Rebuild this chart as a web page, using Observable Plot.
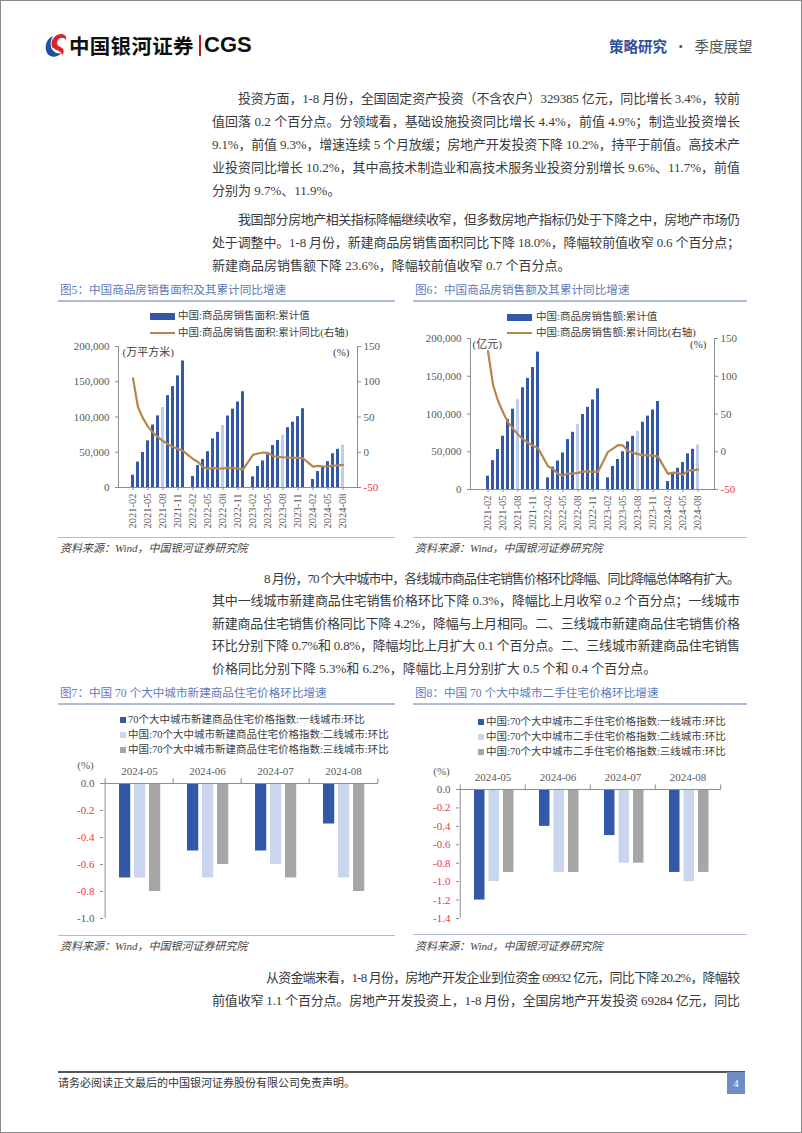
<!DOCTYPE html>
<html><head><meta charset="utf-8">
<script src="https://cdn.jsdelivr.net/npm/d3@7"></script>
<script src="https://cdn.jsdelivr.net/npm/@observablehq/plot@0.6"></script>
<style>
html,body{margin:0;padding:0;background:#fff;}
body{width:802px;height:1133px;position:relative;overflow:hidden;font-family:"Liberation Serif","Noto Sans CJK SC",serif;color:#333;}
.abs{position:absolute;}
.ln{position:absolute;white-space:nowrap;font-size:13px;line-height:23px;height:23px;color:#3a3a3a;}
.ftitle{position:absolute;font-size:11.6px;color:#5E7BB8;white-space:nowrap;font-family:"Liberation Serif","Noto Sans CJK SC",serif;line-height:16px;}
.frule{position:absolute;height:2px;background:#AEBBDB;}
.srule{position:absolute;height:1px;background:#AEBBDB;}
.src{position:absolute;font-size:11px;font-style:italic;color:#444;white-space:nowrap;}
.leg{position:absolute;font-size:10.5px;color:#404040;white-space:nowrap;line-height:14px;}
.sw{position:absolute;}
.chart{position:absolute;}
</style>
</head><body>
<div class="abs" style="left:0;top:0;width:802px;height:1133px;box-sizing:border-box;border:1px solid #8a8a8a;"></div>

<!-- header -->
<svg class="abs" style="left:44px;top:32px" width="24" height="28" viewBox="0 0 24 28">
  <path d="M3,21 C0,15 2,7 9,4 C6,9 5.5,15 9.5,19 C12,21.5 15,22 17.5,21 C13,26 6,26 3,21 Z" fill="#1F4FA0"/>
  <path d="M8,15 C6,9 10,3 16.5,2 C20.5,1.5 23,4.5 22,8 C20,5 16,5 14,8 C12,11 13.5,14 16.5,15 C20,16.5 21,20.5 18,23.5 C18.5,19 12.5,19 8,15 Z" fill="#D7252B"/>
</svg>
<div class="abs" style="left:69px;top:32px;font-family:'Noto Sans CJK SC';font-weight:bold;font-size:20.5px;color:#111;line-height:26px;letter-spacing:0.3px;">中国银河证券</div>
<div class="abs" style="left:199px;top:35px;width:2px;height:21px;background:#C8161D;"></div>
<div class="abs" style="left:204px;top:31px;font-family:'Liberation Sans','Noto Sans CJK SC';font-weight:bold;font-size:22px;color:#111;line-height:28px;">CGS</div>
<div class="abs" style="left:609px;top:36px;font-family:'Noto Sans CJK SC';font-size:14.5px;line-height:20px;white-space:nowrap;"><span style="color:#2D4E9E;font-weight:bold;">策略研究</span><span style="color:#555;"> &nbsp;·&nbsp; 季度展望</span></div>

<div id="text"></div>

<!-- Figure 5 -->
<div class="ftitle" style="left:60px;top:283px;">图5：中国商品房销售面积及其累计同比增速</div>
<div class="frule" style="left:58px;top:300px;width:337px;"></div>
<div class="sw" style="left:150px;top:313px;width:25px;height:7px;background:#3358A8;"></div>
<div class="leg" style="left:178px;top:309px;">中国:商品房销售面积:累计值</div>
<div class="sw" style="left:150px;top:332px;width:25px;height:2px;background:#B8864B;"></div>
<div class="leg" style="left:178px;top:326px;">中国:商品房销售面积:累计同比(右轴)</div>
<div class="chart" id="c5" style="left:55px;top:335px;"></div>
<div class="srule" style="left:58px;top:537px;width:337px;"></div>
<div class="src" style="left:60px;top:539px;">资料来源：Wind，中国银河证券研究院</div>

<!-- Figure 6 -->
<div class="ftitle" style="left:415px;top:283px;">图6：中国商品房销售额及其累计同比增速</div>
<div class="frule" style="left:413px;top:300px;width:334px;"></div>
<div class="sw" style="left:507px;top:314px;width:25px;height:7px;background:#3358A8;"></div>
<div class="leg" style="left:536px;top:310px;">中国:商品房销售额:累计值</div>
<div class="sw" style="left:507px;top:332px;width:25px;height:2px;background:#B8864B;"></div>
<div class="leg" style="left:536px;top:326px;">中国:商品房销售额:累计同比(右轴)</div>
<div class="chart" id="c6" style="left:410px;top:330px;"></div>
<div class="srule" style="left:413px;top:537px;width:334px;"></div>
<div class="src" style="left:415px;top:539px;">资料来源：Wind，中国银河证券研究院</div>

<!-- Figure 7 -->
<div class="ftitle" style="left:60px;top:686px;">图7：中国 70 个大中城市新建商品住宅价格环比增速</div>
<div class="frule" style="left:58px;top:703px;width:337px;"></div>
<div id="leg7"></div>
<div class="chart" id="c7" style="left:55px;top:755px;"></div>
<div class="srule" style="left:58px;top:935px;width:337px;"></div>
<div class="src" style="left:60px;top:937px;">资料来源：Wind，中国银河证券研究院</div>

<!-- Figure 8 -->
<div class="ftitle" style="left:415px;top:686px;">图8：中国 70 个大中城市二手住宅价格环比增速</div>
<div class="frule" style="left:413px;top:703px;width:334px;"></div>
<div id="leg8"></div>
<div class="chart" id="c8" style="left:410px;top:755px;"></div>
<div class="srule" style="left:413px;top:934px;width:334px;"></div>
<div class="src" style="left:415px;top:937px;">资料来源：Wind，中国银河证券研究院</div>

<!-- footer -->
<div class="abs" style="left:58px;top:1071px;width:687px;height:1.5px;background:#555;"></div>
<div class="abs" style="left:58px;top:1075px;font-size:11px;color:#333;white-space:nowrap;line-height:16px;">请务必阅读正文最后的中国银河证券股份有限公司免责声明。</div>
<div class="abs" style="left:727px;top:1072px;width:18px;height:22px;background:#6F8CC4;color:#fff;font-size:11px;line-height:22px;text-align:center;">4</div>

<script>
// ---------------- data ----------------
const months = [
 "2021-02","2021-03","2021-04","2021-05","2021-06","2021-07","2021-08","2021-09","2021-10","2021-11","2021-12",
 "2022-02","2022-03","2022-04","2022-05","2022-06","2022-07","2022-08","2022-09","2022-10","2022-11","2022-12",
 "2023-02","2023-03","2023-04","2023-05","2023-06","2023-07","2023-08","2023-09","2023-10","2023-11","2023-12",
 "2024-02","2024-03","2024-04","2024-05","2024-06","2024-07","2024-08"];
// 商品房销售面积 累计值 (万平方米)
const areaCum = [
 17363,36007,49638,66192,88635,101584,113433,130332,143041,158335,179433,
 15703,31046,39768,50738,68923,78178,87890,101422,111179,121250,135837,
 15133,29946,37636,46440,59515,66563,73949,84806,92579,100509,111735,
 11369,22668,29252,36642,47916,54139,60117];
// 商品房销售面积 累计同比 (%)
const areaYoY = [
 104.9,63.8,48.1,36.3,27.7,21.5,15.9,11.3,7.5,4.8,1.9,
 -9.6,-13.8,-20.9,-23.6,-22.2,-23.1,-23.0,-22.2,-22.3,-23.3,-24.3,
 -3.6,-1.8,-0.4,-0.9,-5.3,-6.5,-7.1,-7.5,-7.8,-8.0,-8.5,
 -20.5,-19.4,-20.2,-20.3,-19.0,-18.6,-18.0];
// 商品房销售额 累计值 (亿元)
const salesCum = [
 17667,38238,52951,70534,92931,106332,118917,134795,147185,161493,181930,
 15459,29655,37658,48337,66072,75763,85870,99380,108832,118648,133308,
 15449,30545,39750,49997,63092,70450,77076,89070,97161,105318,116622,
 10566,21355,28067,35670,47133,53270,58919];
// 商品房销售额 累计同比 (%)
const salesYoY = [
 133.4,88.5,67.5,52.4,38.9,30.7,22.8,16.6,11.8,8.0,4.8,
 -19.3,-22.7,-29.5,-31.5,-28.9,-28.8,-27.9,-26.3,-26.1,-26.6,-26.7,
 -0.1,4.1,8.8,8.4,1.1,-1.5,-3.2,-4.6,-4.9,-5.2,-6.5,
 -29.3,-27.6,-28.3,-30.5,-25.0,-24.3,-23.6];
const leftTicks = [0,50000,100000,150000,200000];
const rightTicks = [-50,0,50,100,150];

// 70城 价格环比
const priceMonths = ["2024-05","2024-06","2024-07","2024-08"];
const newTier1 = [-0.7,-0.5,-0.5,-0.3];
const newTier2 = [-0.7,-0.7,-0.6,-0.7];
const newTier3 = [-0.8,-0.6,-0.7,-0.8];
const usedTier1 = [-1.2,-0.4,-0.5,-0.9];
const usedTier2 = [-1.0,-0.9,-0.8,-1.0];
const usedTier3 = [-0.9,-0.9,-0.8,-0.9];
const legend7 = ["70个大中城市新建商品住宅价格指数:一线城市:环比","中国:70个大中城市新建商品住宅价格指数:二线城市:环比","中国:70个大中城市新建商品住宅价格指数:三线城市:环比"];
const legend8 = ["中国:70个大中城市二手住宅价格指数:一线城市:环比","中国:70个大中城市二手住宅价格指数:二线城市:环比","中国:70个大中城市二手住宅价格指数:三线城市:环比"];

// ---------------- styles ----------------
const DARK="#3358A8", LIGHTBAR="#BFCDEA", LIGHT="#C9D6EE", GRAY="#A6A6A6", GOLD="#B8864B";
const AXIS="#8C8C8C", TXT="#595959", RED="#E8383D";
const FONT = "'Liberation Serif','Noto Sans CJK SC',serif";

// ---------------- paragraphs ----------------
const paragraphs = [
 {indent:238, ys:[98,121,144,167,190], lines:[
  "投资方面，1-8 月份，全国固定资产投资（不含农户）329385 亿元，同比增长 3.4%，较前",
  "值回落 0.2 个百分点。分领域看，基础设施投资同比增长 4.4%，前值 4.9%；制造业投资增长",
  "9.1%，前值 9.3%，增速连续 5 个月放缓；房地产开发投资下降 10.2%，持平于前值。高技术产",
  "业投资同比增长 10.2%，其中高技术制造业和高技术服务业投资分别增长 9.6%、11.7%，前值",
  "分别为 9.7%、11.9%。"]},
 {indent:238, ys:[219,242,265], lines:[
  "我国部分房地产相关指标降幅继续收窄，但多数房地产指标仍处于下降之中，房地产市场仍",
  "处于调整中。1-8 月份，新建商品房销售面积同比下降 18.0%，降幅较前值收窄 0.6 个百分点；",
  "新建商品房销售额下降 23.6%，降幅较前值收窄 0.7 个百分点。"]},
 {indent:264, ys:[578,600.5,623,645.5,668], lines:[
  "8 月份，70 个大中城市中，各线城市商品住宅销售价格环比降幅、同比降幅总体略有扩大。",
  "其中一线城市新建商品住宅销售价格环比下降 0.3%，降幅比上月收窄 0.2 个百分点；一线城市",
  "新建商品住宅销售价格同比下降 4.2%，降幅与上月相同。二、三线城市新建商品住宅销售价格",
  "环比分别下降 0.7%和 0.8%，降幅均比上月扩大 0.1 个百分点。二、三线城市新建商品住宅销售",
  "价格同比分别下降 5.3%和 6.2%，降幅比上月分别扩大 0.5 个和 0.4 个百分点。"]},
 {indent:266, ys:[977,1000], last:false, lines:[
  "从资金端来看，1-8 月份，房地产开发企业到位资金 69932 亿元，同比下降 20.2%，降幅较",
  "前值收窄 1.1 个百分点。房地产开发投资上，1-8 月份，全国房地产开发投资 69284 亿元，同比"]}
];
const textRoot = document.getElementById("text");
const X0 = 212, X1 = 740;
paragraphs.forEach(p => {
  p.lines.forEach((t, i) => {
    const s = document.createElement("span");
    s.className = "ln";
    s.textContent = t;
    const left = i === 0 ? p.indent : X0;
    s.style.left = left + "px";
    s.style.top = (p.ys[i] - 11.5) + "px";
    textRoot.appendChild(s);
    const isLast = i === p.lines.length - 1 && p.last !== false;
    if (!isLast) {
      const w = s.getBoundingClientRect().width;
      const n = Array.from(t).length;
      s.style.letterSpacing = ((X1 - left - w) / (n - 1)) + "px";
    }
  });
});

// ---------------- legends 7/8 ----------------
function buildLegend(rootId, labels, swX, txtX, ys) {
  const root = document.getElementById(rootId);
  const cols = [DARK, LIGHT, GRAY];
  labels.forEach((l, i) => {
    const sw = document.createElement("div");
    sw.className = "sw";
    Object.assign(sw.style, {left: swX + "px", top: (ys[i] - 3) + "px", width: "6px", height: "6px", background: cols[i]});
    root.appendChild(sw);
    const tx = document.createElement("div");
    tx.className = "leg";
    tx.textContent = l;
    Object.assign(tx.style, {left: txtX + "px", top: (ys[i] - 7) + "px"});
    root.appendChild(tx);
  });
}
buildLegend("leg7", legend7, 120, 128, [720, 735, 750]);
buildLegend("leg8", legend8, 478, 486, [722, 737, 752]);

// ---------------- figure 5 & 6 ----------------
const domain = d3.utcMonths(new Date(Date.UTC(2021,1,1)), new Date(Date.UTC(2024,8,1))).map(d3.utcFormat("%Y-%m"));
const xTicks = domain.filter((d, i) => i % 3 === 0);
const toLeft = v => (v + 50) * 1000;

function dualChart(cum, yoy, unit, o) {
  const rows = months.map((m, i) => ({month: m, value: cum[i], yoy: yoy[i]}));
  const isAug = d => d.month.endsWith("-08");
  return Plot.plot({
    width: o.width, height: o.height,
    marginLeft: o.ml, marginRight: o.mr, marginTop: o.mt, marginBottom: o.mb,
    x: {type: "band", domain, paddingInner: 0.42, paddingOuter: o.po, label: null},
    y: {domain: [0, 200000], label: null},
    style: {fontFamily: FONT, fontSize: "11px", color: TXT, background: "transparent", overflow: "visible"},
    marks: [
      Plot.barY(rows.filter(d => !isAug(d)), {x: "month", y: "value", fill: DARK}),
      Plot.barY(rows.filter(isAug), {x: "month", y: "value", fill: LIGHTBAR}),
      Plot.lineY(rows, {x: "month", y: d => toLeft(d.yoy), stroke: GOLD, strokeWidth: 2.2}),
      Plot.ruleY([0], {stroke: AXIS}),
      Plot.frame({anchor: "left", stroke: AXIS}),
      Plot.frame({anchor: "right", stroke: AXIS}),
      Plot.axisY({anchor: "left", ticks: leftTicks, tickFormat: d3.format(","), tickSize: 3, tickPadding: 6, stroke: AXIS, fill: TXT, fontSize: 11}),
      Plot.axisY({anchor: "right", ticks: rightTicks.filter(t => t !== -50).map(toLeft), tickFormat: d => String(d / 1000 - 50), tickSize: 3, tickPadding: 3, stroke: AXIS, fill: TXT}),
      Plot.axisY({anchor: "right", ticks: [toLeft(-50)], tickFormat: d => String(d / 1000 - 50), tickSize: 3, tickPadding: 3, stroke: AXIS, fill: RED}),
      Plot.axisX({anchor: "bottom", ticks: xTicks, tickRotate: -90, tickSize: 3, tickPadding: 3, stroke: AXIS, fill: TXT, fontSize: 10.5}),
      Plot.text([unit], {frameAnchor: "top-left", textAnchor: "start", lineAnchor: "middle", dx: o.unitDx, dy: 6, fill: "#404040", fontSize: 11}),
      Plot.text(["(%)"], {frameAnchor: "top-right", textAnchor: "end", lineAnchor: "middle", dx: -8, dy: 6, fill: "#404040", fontSize: 11})
    ]
  });
}
document.getElementById("c5").appendChild(dualChart(areaCum, areaYoY, "(万平方米)",
  {width: 345, height: 200, ml: 63, mr: 43, mt: 11, mb: 48, po: 0.6, unitDx: 4}));
document.getElementById("c6").appendChild(dualChart(salesCum, salesYoY, "(亿元)",
  {width: 345, height: 205, ml: 60, mr: 41, mt: 8, mb: 46, po: 0.45, unitDx: 2}));

// ---------------- figure 7 & 8 ----------------
function groupChart(series, o) {
  const bw = (o.width - o.ml - o.mr) / priceMonths.length;
  const rows = priceMonths.map((m, i) => ({month: m, v: series.map(s => s[i])}));
  const cols = [DARK, LIGHT, GRAY];
  const fmt = d => d.toFixed(1);
  return Plot.plot({
    width: o.width, height: o.height,
    marginLeft: o.ml, marginRight: o.mr, marginTop: o.mt, marginBottom: o.mb,
    x: {type: "band", domain: priceMonths, padding: 0, label: null},
    y: {domain: [o.ymin, 0], label: null},
    style: {fontFamily: FONT, fontSize: "11px", color: TXT, background: "transparent", overflow: "visible"},
    marks: [
      ...series.map((s, k) => Plot.barY(rows, {x: "month", y: d => d.v[k], fill: cols[k],
        insetLeft: o.off + k * o.step, insetRight: bw - o.off - k * o.step - o.barW})),
      Plot.ruleY([0], {stroke: AXIS}),
      Plot.ruleX(priceMonths, {x: d => d, y1: 0, y2: o.tick, dx: -bw / 2, stroke: AXIS}),
      Plot.ruleX(priceMonths.slice(-1), {x: d => d, y1: 0, y2: o.tick, dx: bw / 2, stroke: AXIS}),
      Plot.ruleX(priceMonths.slice(0, 1), {x: d => d, y1: o.ymin, y2: 0, dx: -bw / 2, stroke: AXIS}),
      Plot.axisY({anchor: "left", ticks: o.redTicks, tickFormat: fmt, tickSize: 3, tickPadding: 6, stroke: AXIS, fill: RED}),
      Plot.axisY({anchor: "left", ticks: o.greyTicks, tickFormat: fmt, tickSize: 3, tickPadding: 6, stroke: AXIS, fill: TXT}),
      Plot.axisX({anchor: "top", tickSize: 0, tickPadding: 9, fill: TXT}),
      Plot.text(["(%)"], {frameAnchor: "top-left", textAnchor: "middle", lineAnchor: "middle", dx: o.pctDx, dy: -18, fill: TXT})
    ]
  });
}
document.getElementById("c7").appendChild(groupChart([newTier1, newTier2, newTier3],
  {width: 340, height: 170, ml: 48, mr: 17, mt: 28, mb: 7, ymin: -1.0, off: 14, step: 15, barW: 12, tick: 0.035,
   redTicks: [-0.2, -0.4, -0.6, -0.8], greyTicks: [0, -1.0], pctDx: -18}));
document.getElementById("c8").appendChild(groupChart([usedTier1, usedTier2, usedTier3],
  {width: 340, height: 170, ml: 49, mr: 29, mt: 34, mb: 7, ymin: -1.4, off: 14, step: 14.5, barW: 11, tick: 0.05,
   redTicks: [-0.2, -0.4, -0.6, -0.8, -1.0, -1.2, -1.4], greyTicks: [0], pctDx: -18}));
</script>
</body></html>
